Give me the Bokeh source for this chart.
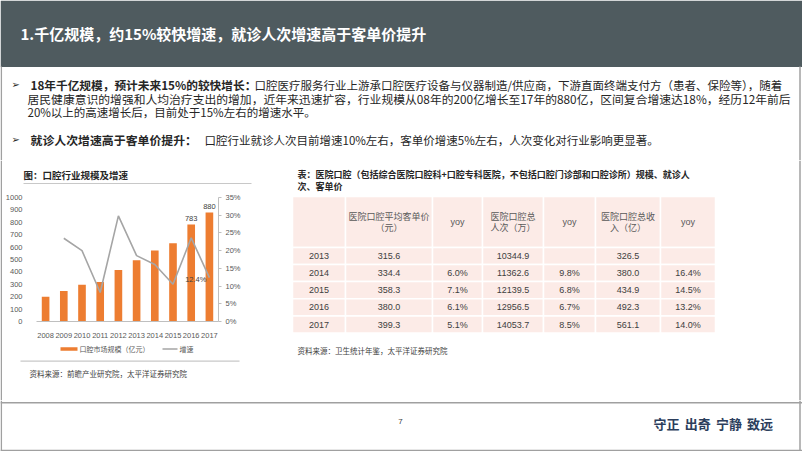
from bokeh.plotting import figure
from bokeh.models import (Range1d, LinearAxis, ColumnDataSource, LabelSet,
                          FixedTicker, PrintfTickFormatter)
from bokeh.layouts import column, row
from bokeh.core.properties import value
from bokeh.embed import file_html
from bokeh.resources import INLINE

CJK = "Noto Sans CJK SC"
LAT = "Liberation Sans"

# ---------------- data ----------------
page_title = "1.千亿规模，约15%较快增速，就诊人次增速高于客单价提升"
bullet1_bold = "18年千亿规模，预计未来15%的较快增长："
bullet1_lines = [
    "口腔医疗服务行业上游承口腔医疗设备与仪器制造/供应商，下游直面终端支付方（患者、保险等），随着",
    "居民健康意识的增强和人均治疗支出的增加，近年来迅速扩容，行业规模从08年的200亿增长至17年的880亿，区间复合增速达18%，经历12年前后",
    "20%以上的高速增长后，目前处于15%左右的增速水平。",
]
bullet2_bold = "就诊人次增速高于客单价提升："
bullet2_text = "口腔行业就诊人次目前增速10%左右，客单价增速5%左右，人次变化对行业影响更显著。"

chart_title = "图：口腔行业规模及增速"
years = ["2008", "2009", "2010", "2011", "2012", "2013", "2014", "2015", "2016", "2017"]
market_size = [200, 245, 297, 318, 415, 493, 573, 632, 783, 880]
growth_years = ["2009", "2010", "2011", "2012", "2013", "2014", "2015", "2016", "2017"]
growth_pct = [23.5, 20.0, 8.2, 29.8, 18.6, 16.1, 10.5, 23.6, 12.4]
size_ticks = [0, 100, 200, 300, 400, 500, 600, 700, 800, 900, 1000]
pct_ticks = [0, 5, 10, 15, 20, 25, 30, 35]
series_names = ["口腔市场规模（亿元）", "增速"]
labeled_bars = ["2016", "2017"]
labeled_growth = ["2017"]
chart_source = "资料来源：前瞻产业研究院，太平洋证券研究院"

table_title = ["表：医院口腔（包括综合医院口腔科+口腔专科医院，不包括口腔门诊部和口腔诊所）规模、就诊人",
               "次、客单价"]
table_headers = [[""], ["医院口腔平均客单价", "（元）"], ["yoy"], ["医院口腔总", "人次（万）"],
                 ["yoy"], ["医院口腔总收", "入（亿）"], ["yoy"]]
table_years = ["2013", "2014", "2015", "2016", "2017"]
avg_price = [315.6, 334.4, 358.3, 380.0, 399.3]
avg_price_yoy = ["", "6.0%", "7.1%", "6.1%", "5.1%"]
visits = [10344.9, 11362.6, 12139.5, 12956.5, 14053.7]
visits_yoy = ["", "9.8%", "6.8%", "6.7%", "8.5%"]
revenue = [326.5, 380.0, 434.9, 492.3, 561.1]
revenue_yoy = ["", "16.4%", "14.5%", "13.2%", "14.0%"]
table_source = "资料来源：卫生统计年鉴，太平洋证券研究院"

page_number = "7"
motto_words = ["守正", "出奇", "宁静", "致远"]

BORDER = "#a0a0a0"
BAR = "#ed7d31"
LINE = "#a5a5a5"


# ---------------- helpers ----------------
def canvas(w, h, x0, x1, y0, y1):
    p = figure(width=w, height=h, x_range=Range1d(x0, x1), y_range=Range1d(y1, y0),
               toolbar_location=None, output_backend="svg", min_border=0,
               x_axis_location=None, y_axis_location=None, outline_line_color=None,
               frame_align=False)
    p.grid.visible = False
    return p


def txt(p, x, y, s, size, color="#262626", font=CJK, bold=False, align="left"):
    p.text(x=[x], y=[y], text=[s], text_font=value(font), text_font_size=size,
           text_color=color, text_font_style="bold" if bold else "normal",
           text_align=align, text_baseline="middle")


def vline(p, x, y0, y1):
    p.line(x=[x, x], y=[y0, y1], line_color=BORDER, line_width=1.5)


# ---------------- top: header + bullets ----------------
top = canvas(802, 160, 0, 802, 0, 160)
top.quad(left=[0], right=[802], top=[0], bottom=[66.5], fill_color="#4f5b5f", line_color=None)
txt(top, 20, 33, page_title, "15px", color="white", bold=True)
vline(top, 0.8, 66, 160)
vline(top, 799.5, 66, 160)

body_size = "11.5px"
txt(top, 11, 84, "➢", "10px", font="DejaVu Sans")
txt(top, 30, 84, bullet1_bold, "11.7px", bold=True)
txt(top, 254, 84, bullet1_lines[0], body_size)
txt(top, 27, 97.5, bullet1_lines[1], "11.8px")
txt(top, 27, 111, bullet1_lines[2], body_size)
txt(top, 11, 139, "➢", "10px", font="DejaVu Sans")
txt(top, 30, 139, bullet2_bold, "11.9px", bold=True)
txt(top, 204, 139, bullet2_text, body_size)

# ---------------- left border strip ----------------
strip = canvas(2, 240, 0, 2, 160, 400)
vline(strip, 0.8, 160, 400)

# ---------------- left: chart title ----------------
ltitle = canvas(278, 32, 2, 280, 160, 192)
txt(ltitle, 23, 174, chart_title, "9.5px", bold=True)
ltitle.line(x=[23, 251], y=[183, 183], line_color="#c8c8c8", line_width=1)

# ---------------- left: chart ----------------
chart = figure(width=278, height=148, x_range=years, y_range=Range1d(0, 1000),
               toolbar_location=None, output_backend="svg",
               min_border_left=31, min_border_right=62, min_border_top=5, min_border_bottom=17,
               outline_line_color=None, frame_align=False)
chart.extra_y_ranges = {"pct": Range1d(0, 35)}
chart.grid.visible = False

bars = chart.vbar(x=years, top=market_size, width=0.42, fill_color=BAR, line_color=None)
line = chart.line(x=growth_years, y=growth_pct, y_range_name="pct",
                  line_color=LINE, line_width=1.6)

ax_l = chart.yaxis[0]
ax_l.ticker = FixedTicker(ticks=size_ticks)
ax_l.axis_line_color = None
ax_l.major_tick_line_color = None
ax_l.minor_tick_line_color = None
ax_l.major_label_standoff = 8

ax_r = LinearAxis(y_range_name="pct", ticker=FixedTicker(ticks=pct_ticks),
                  formatter=PrintfTickFormatter(format="%d%%"))
ax_r.axis_line_color = "#bfbfbf"
ax_r.major_tick_line_color = "#bfbfbf"
ax_r.major_tick_in = 0
ax_r.major_tick_out = 3
ax_r.minor_tick_line_color = None
ax_r.major_label_standoff = 4
chart.add_layout(ax_r, "right")

ax_b = chart.xaxis[0]
ax_b.axis_line_color = "#bfbfbf"
ax_b.major_tick_line_color = None
ax_b.minor_tick_line_color = None
ax_b.major_label_standoff = 5

for ax in (ax_l, ax_r, ax_b):
    ax.major_label_text_font = LAT
    ax.major_label_text_font_size = "7.5px"
    ax.major_label_text_color = "#595959"

bar_lab = ColumnDataSource(dict(x=labeled_bars,
                                y=[market_size[years.index(y)] for y in labeled_bars],
                                t=[str(market_size[years.index(y)]) for y in labeled_bars]))
chart.add_layout(LabelSet(x="x", y="y", text="t", source=bar_lab, text_align="center",
                          text_baseline="bottom", y_offset=3, text_font=value(LAT),
                          text_font_size="7.5px", text_color="#404040"))
g_lab = ColumnDataSource(dict(x=labeled_growth,
                              y=[growth_pct[growth_years.index(y)] for y in labeled_growth],
                              t=["%.1f%%" % growth_pct[growth_years.index(y)] for y in labeled_growth]))
chart.add_layout(LabelSet(x="x", y="y", text="t", source=g_lab, y_range_name="pct",
                          text_align="right", text_baseline="middle", x_offset=-3, y_offset=-2,
                          text_font=value(LAT), text_font_size="7.5px", text_color="#404040"))

# ---------------- left: legend strip ----------------
leg = canvas(278, 18, 2, 280, 340, 358)
leg.quad(left=[60], right=[77], top=[346.8], bottom=[350.3], fill_color=BAR, line_color=None)
txt(leg, 79, 348.5, series_names[0], "7px", color="#595959")
leg.line(x=[162, 177], y=[348.5, 348.5], line_color=LINE, line_width=1.6)
txt(leg, 179, 348.5, series_names[1], "7px", color="#595959")

# ---------------- left: source ----------------
lsrc = canvas(278, 42, 2, 280, 358, 400)
lsrc.line(x=[20, 239], y=[360.7, 360.7], line_color="#c8c8c8", line_width=1.2)
txt(lsrc, 29, 373, chart_source, "7.5px", color="#404040")

# ---------------- right: table ----------------
tbl = canvas(522, 240, 280, 802, 160, 400)
vline(tbl, 799.5, 160, 400)
txt(tbl, 297, 174, table_title[0], "9px", bold=True)
txt(tbl, 297, 186, table_title[1], "9px", bold=True)

col_edges = [292, 345, 432, 482, 543, 595, 660, 715]
row_edges = [196, 247, 264, 281, 298.3, 315.5, 332.5]
L, R, T, B = [], [], [], []
for j in range(len(row_edges) - 1):
    for i in range(len(col_edges) - 1):
        L.append(col_edges[i]); R.append(col_edges[i + 1])
        T.append(row_edges[j]); B.append(row_edges[j + 1])
tbl.quad(left=L, right=R, top=T, bottom=B, fill_color="#fcebe7", line_color="white", line_width=1.5)

hdr_mid = (row_edges[0] + row_edges[1]) / 2
for i, lines in enumerate(table_headers):
    cx = (col_edges[i] + col_edges[i + 1]) / 2
    if len(lines) == 1:
        if lines[0]:
            txt(tbl, cx, hdr_mid, lines[0], "9px", color="#595959", font=LAT, align="center")
    else:
        txt(tbl, cx, hdr_mid - 5.5, lines[0], "9px", color="#595959", align="center")
        txt(tbl, cx, hdr_mid + 5.5, lines[1], "9px", color="#595959", align="center")

cols_data = [table_years, ["%.1f" % v for v in avg_price], avg_price_yoy,
             ["%.1f" % v for v in visits], visits_yoy,
             ["%.1f" % v for v in revenue], revenue_yoy]
for i, col in enumerate(cols_data):
    cx = (col_edges[i] + col_edges[i + 1]) / 2
    for j, s in enumerate(col):
        if s:
            cy = (row_edges[j + 1] + row_edges[j + 2]) / 2
            txt(tbl, cx, cy, s, "9px", color="#404040", font=LAT, align="center")

txt(tbl, 297, 350, table_source, "7.5px", color="#404040")

# ---------------- footer ----------------
footer = canvas(802, 51, 0, 802, 400, 451)
footer.line(x=[0, 802], y=[402.3, 402.3], line_color=BORDER, line_width=1.5)
footer.line(x=[0, 802], y=[450, 450], line_color=BORDER, line_width=1.5)
vline(footer, 0.8, 400, 451)
vline(footer, 799.5, 400, 451)
txt(footer, 400, 421, page_number, "8px", color="#404040", font=LAT, align="center")
for k, w in enumerate(motto_words):
    txt(footer, 653 + k * 31.2, 423, w, "13px", color="#2c3e5c", bold=True)

left_col = column(ltitle, chart, leg, lsrc, spacing=0)
middle = row(strip, left_col, tbl, spacing=0)
layout = column(top, middle, footer, spacing=0)

open("out.html", "w").write(file_html(layout, INLINE))
